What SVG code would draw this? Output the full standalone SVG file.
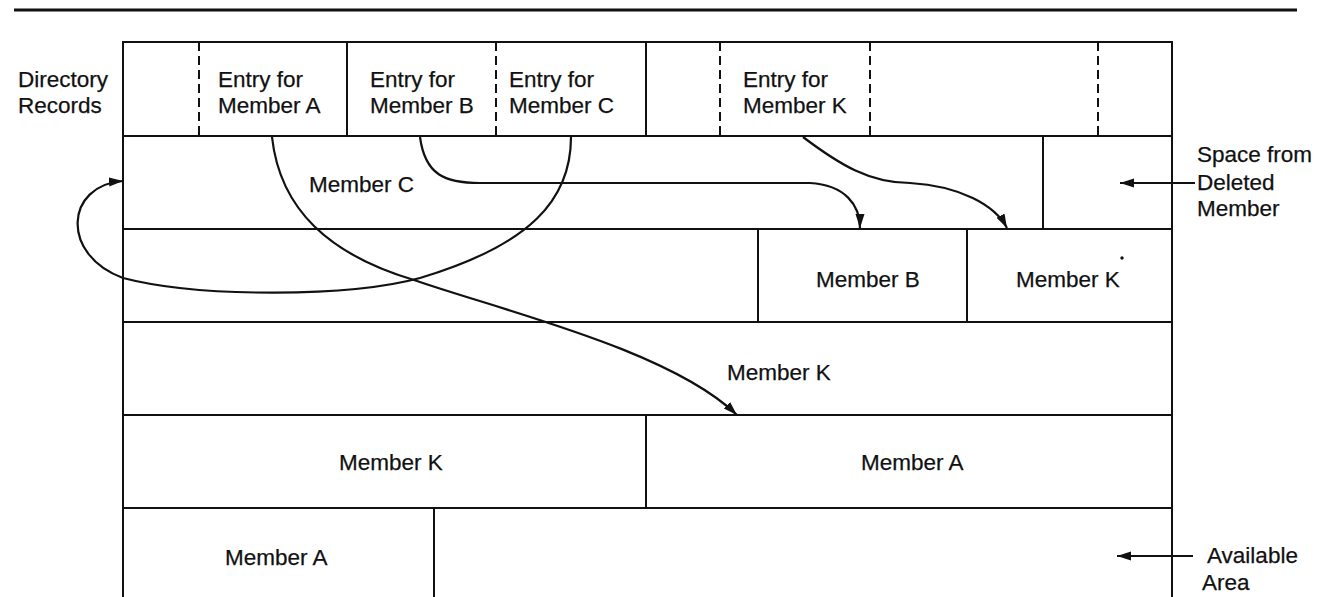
<svg xmlns="http://www.w3.org/2000/svg" width="1325" height="597" viewBox="0 0 1325 597">
<style>
text{font-family:"Liberation Sans",Arial,sans-serif;font-size:22.5px;fill:#111;stroke:#111;stroke-width:0.25}
.ln{stroke:#111;stroke-width:2;fill:none}
.dash{stroke:#111;stroke-width:2;fill:none;stroke-dasharray:9 5}
.cv{stroke:#111;stroke-width:2.2;fill:none}
</style>
<defs>
<marker id="ah" markerUnits="userSpaceOnUse" markerWidth="16" markerHeight="12" refX="14" refY="5" orient="auto">
<path d="M0,0.5 L14,5 L0,9.5 Z" fill="#111"/>
</marker>
</defs>
<rect width="1325" height="597" fill="#fff"/>
<line x1="14" y1="10" x2="1297" y2="10" stroke="#111" stroke-width="3"/>
<g id="frame">
<path class="ln" d="M123,597 V42 H1172 V597"/>
<path class="ln" d="M123,136 H1172 M123,229 H1172 M123,322 H1172 M123,415 H1172 M123,508 H1172"/>
<path class="ln" d="M347,42 V136 M646,42 V136"/>
<path class="dash" d="M199,42 V136 M496,42 V136 M720,42 V136 M870,42 V136 M1098,42 V136"/>
<path class="ln" d="M1043,136 V229 M758,229 V322 M967,229 V322 M646,415 V508 M434,508 V597"/>
</g>
<g id="directory-label"><text x="18" y="87">Directory</text><text x="18" y="113">Records</text></g>
<g id="entry-a"><text x="218" y="87">Entry for</text><text x="218" y="113">Member A</text></g>
<g id="entry-b"><text x="370" y="87">Entry for</text><text x="370" y="113">Member B</text></g>
<g id="entry-c"><text x="509" y="87">Entry for</text><text x="509" y="113">Member C</text></g>
<g id="entry-k"><text x="743" y="87">Entry for</text><text x="743" y="113">Member K</text></g>
<g id="member-c"><text x="309" y="192">Member C</text></g>
<g id="deleted-space"><text x="1197" y="162">Space from</text><text x="1197" y="190">Deleted</text><text x="1197" y="216">Member</text></g>
<g id="member-b"><text x="816" y="287">Member B</text></g>
<g id="member-k-new"><text x="1016" y="287">Member K</text><circle cx="1122" cy="258" r="1.7" fill="#111"/></g>
<g id="member-k-row4"><text x="727" y="380">Member K</text></g>
<g id="member-k-row5"><text x="339" y="470">Member K</text></g>
<g id="member-a-row5"><text x="861" y="470">Member A</text></g>
<g id="member-a-row6"><text x="225" y="565">Member A</text></g>
<g id="available"><text x="1207" y="563">Available</text><text x="1202" y="590">Area</text></g>
<g id="connectors">
<path class="cv" d="M571,137 C571,200 530,245 420,278 C350,297 200,298 123,278 C60,255 65,185 123,181" marker-end="url(#ah)"/>
<path class="cv" d="M272,137 C280,210 330,255 414,280 C500,310 670,350 737,415" marker-end="url(#ah)"/>
<path class="cv" d="M420,137 C425,175 445,183 480,183 L810,183 C845,185 860,205 860,228" marker-end="url(#ah)"/>
<path class="cv" d="M803,137 C840,165 870,183 910,183 C960,186 995,205 1007,228" marker-end="url(#ah)"/>
<path class="cv" d="M1195,183 H1120" marker-end="url(#ah)"/>
<path class="cv" d="M1193,556 H1117" marker-end="url(#ah)"/>
</g>
</svg>
